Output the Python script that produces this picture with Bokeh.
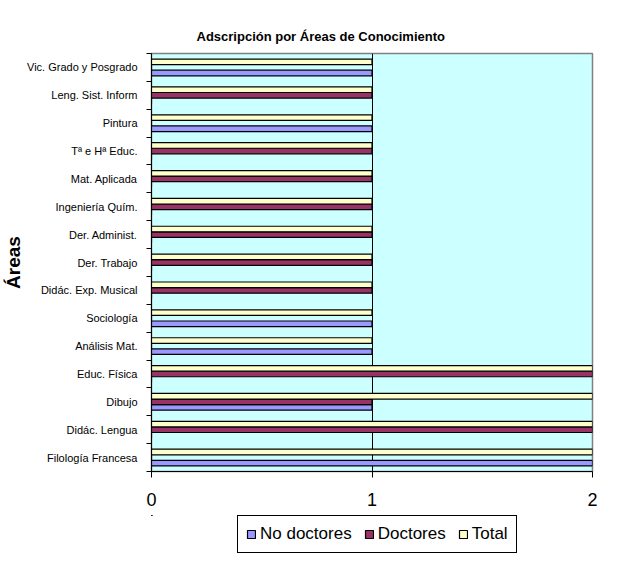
from bokeh.plotting import figure
from bokeh.models import (Range1d, FixedTicker, Legend, LegendItem, ColumnDataSource)
from bokeh.layouts import column
from bokeh.transform import dodge
from bokeh.embed import file_html
from bokeh.resources import INLINE

areas = ["Filología Francesa", "Didác. Lengua", "Dibujo", "Educ. Física", "Análisis Mat.",
         "Sociología", "Didác. Exp. Musical", "Der. Trabajo", "Der. Administ.",
         "Ingeniería Quím.", "Mat. Aplicada", "Tª e Hª Educ.", "Pintura",
         "Leng. Sist. Inform", "Vic. Grado y Posgrado"]
no_doctores = [2, 0, 1, 0, 1, 1, 0, 0, 0, 0, 0, 0, 1, 0, 1]
doctores = [0, 2, 1, 2, 0, 0, 1, 1, 1, 1, 1, 1, 0, 1, 0]
total = [2, 2, 2, 2, 1, 1, 1, 1, 1, 1, 1, 1, 1, 1, 1]
x_ticks = [0, 1, 2]
series = ["No doctores", "Doctores", "Total"]
colors = ["#9999FF", "#993366", "#FFFFCC"]

FONT = "Liberation Sans"

n = len(areas)
centers = [i + 0.5 for i in range(n)]
bounds = list(range(n + 1))

src = ColumnDataSource(dict(pos=centers, area=areas, nd=no_doctores, d=doctores, t=total))

p = figure(width=624, height=515, output_backend="svg", toolbar_location=None,
           y_range=Range1d(0, n), x_range=Range1d(0, 2),
           min_border_left=149, min_border_right=32, min_border_top=53, min_border_bottom=44,
           background_fill_color="#CCFFFF", border_fill_color="white",
           outline_line_color="#808080", outline_line_width=1.5)

p.title.text = "Adscripción por Áreas de Conocimiento"
p.title.text_font = FONT
p.title.text_font_size = "13px"
p.title.text_font_style = "bold"
p.title.text_color = "black"
p.title.align = "left"
p.title.offset = 45
p.title.standoff = 19

offs = [-0.2, 0.0, 0.2]
cols = ["nd", "d", "t"]
for col, off, c in zip(cols, offs, colors):
    p.hbar(y=dodge("pos", off), left=0, right=col, height=0.2,
           source=src, fill_color=c, line_color="black", line_width=1.2)

# x axis
xa = p.xaxis[0]
xa.ticker = FixedTicker(ticks=x_ticks)
xa.major_label_text_font = FONT
xa.major_label_text_font_size = "18px"
xa.major_label_text_color = "black"
xa.major_tick_in = 0
xa.major_tick_out = 6
xa.minor_tick_line_color = None
xa.major_label_standoff = 15
xa.axis_line_color = "black"
xa.major_tick_line_color = "black"

p.xgrid.ticker = FixedTicker(ticks=[1])
p.xgrid.grid_line_color = "black"
p.xgrid.grid_line_width = 1
p.ygrid.grid_line_color = None

# y axis: labels at category centres, ticks at category boundaries
ya = p.yaxis[0]
ya.ticker = FixedTicker(ticks=centers, minor_ticks=bounds)
ya.major_label_overrides = {c: a for c, a in zip(centers, areas)}
ya.major_tick_line_color = None
ya.major_tick_in = 0
ya.major_tick_out = 0
ya.minor_tick_in = 0
ya.minor_tick_out = 5
ya.minor_tick_line_color = "black"
ya.axis_line_color = "black"
ya.major_label_text_font = FONT
ya.major_label_text_font_size = "11px"
ya.major_label_text_color = "black"
ya.major_label_standoff = 9
ya.axis_label = "Áreas"
ya.axis_label_text_font = FONT
ya.axis_label_text_font_size = "19px"
ya.axis_label_text_font_style = "bold"
ya.axis_label_text_color = "black"
ya.axis_label_standoff = 0

# legend strip below the chart (same series glyphs, ranges chosen so only the legend shows)
lp = figure(width=624, height=44, output_backend="svg", toolbar_location=None,
            x_range=Range1d(10, 11), y_range=Range1d(-1, 0),
            x_axis_location=None, y_axis_location=None,
            min_border_left=149, min_border_right=32, min_border_top=0, min_border_bottom=0,
            background_fill_color="white", border_fill_color="white",
            outline_line_color=None)
lp.xgrid.grid_line_color = None
lp.ygrid.grid_line_color = None
lrends = []
for col, off, c in zip(cols, offs, colors):
    r = lp.hbar(y=dodge("pos", off), left=0, right=col, height=0.2,
                source=src, fill_color=c, line_color="black", line_width=1.2)
    lrends.append(r)

legend = Legend(items=[LegendItem(label=s, renderers=[r]) for s, r in zip(series, lrends)],
                orientation="horizontal", location=(86, 6),
                label_text_font=FONT, label_text_font_size="17px", label_text_color="black",
                glyph_width=10, glyph_height=10, label_standoff=4, spacing=12,
                padding=8, margin=0, label_height=16,
                border_line_color="black", border_line_width=1, border_line_alpha=1,
                background_fill_color="white", background_fill_alpha=1)
lp.add_layout(legend, "center")

layout = column(p, lp, spacing=0)

open("out.html", "w").write(file_html(layout, INLINE))
